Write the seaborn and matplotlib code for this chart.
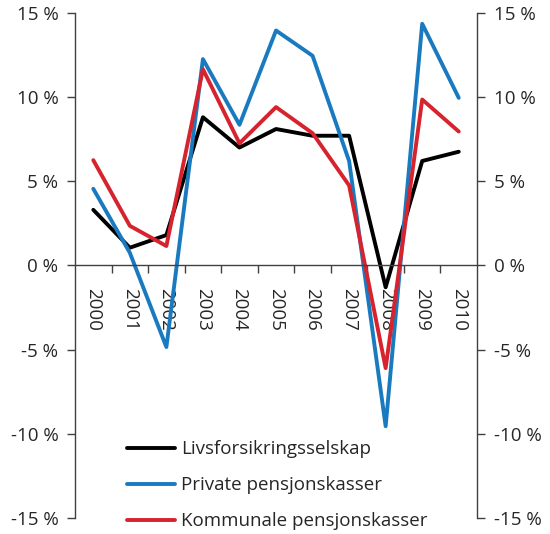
import pandas as pd
import seaborn as sns
import matplotlib.pyplot as plt
from matplotlib.ticker import FuncFormatter, FixedLocator

# Data (annual return, %)
years = [2000, 2001, 2002, 2003, 2004, 2005, 2006, 2007, 2008, 2009, 2010]
livs = [3.3, 1.05, 1.8, 8.8, 7.0, 8.1, 7.7, 7.7, -1.3, 6.2, 6.75]
private = [4.55, 0.75, -4.85, 12.25, 8.35, 13.95, 12.45, 6.2, -9.55, 14.35, 9.95]
kommunale = [6.25, 2.35, 1.15, 11.65, 7.25, 9.4, 7.85, 4.75, -6.1, 9.85, 7.95]

series_names = ["Livsforsikringsselskap", "Private pensjonskasser", "Kommunale pensjonskasser"]
colors = ["#000000", "#1a7abf", "#d7232e"]

df = pd.DataFrame({"year": years * 3,
                   "value": livs + private + kommunale,
                   "series": [s for s in series_names for _ in years]})

sns.set_style("white")
plt.rcParams['font.family'] = ['Open Sans', 'DejaVu Sans']

fig = plt.figure(figsize=(5.5, 5.34), dpi=100)
ax = fig.add_axes([0.1364, 0.030, 0.7309, 0.946])

sns.lineplot(data=df, x="year", y="value", hue="series", palette=colors,
             hue_order=series_names, linewidth=2.8, sort=False, ax=ax)

ax.set_xlim(1999.5, 2010.5)
ax.set_ylim(-15, 15)
ax.set_yticks([-15, -10, -5, 0, 5, 10, 15])
ax.yaxis.set_major_formatter(FuncFormatter(lambda v, p: f"{int(v)} %"))
ax.tick_params(axis='y', left=True, right=True, labelleft=True, labelright=True,
               direction='out', length=6, width=1, color='#404040',
               labelsize=13.5, pad=6)

# x axis sits on the zero line, tick marks between years
ax.spines['bottom'].set_position(('data', 0))
ax.spines['top'].set_visible(False)
for s in ['left', 'right', 'bottom']:
    ax.spines[s].set_color('#404040')
    ax.spines[s].set_linewidth(1.0)
ax.set_xticks(years)
ax.set_xticklabels([str(y) for y in years], rotation=270)
ax.xaxis.set_minor_locator(FixedLocator([y + 0.5 for y in years[:-1]]))
ax.tick_params(axis='x', which='major', length=0, labelsize=13.5, pad=16)
ax.tick_params(axis='x', which='minor', bottom=True, length=6, width=1,
               color='#404040', direction='out')
ax.set_xlabel("")
ax.set_ylabel("")

ax.legend(loc='lower left', bbox_to_anchor=(0.129, -0.024), frameon=False,
          fontsize=13.5, handlelength=2.56, handletextpad=0.32,
          labelspacing=0.95, borderpad=0, borderaxespad=0)

fig.savefig("out.png", dpi=100)
